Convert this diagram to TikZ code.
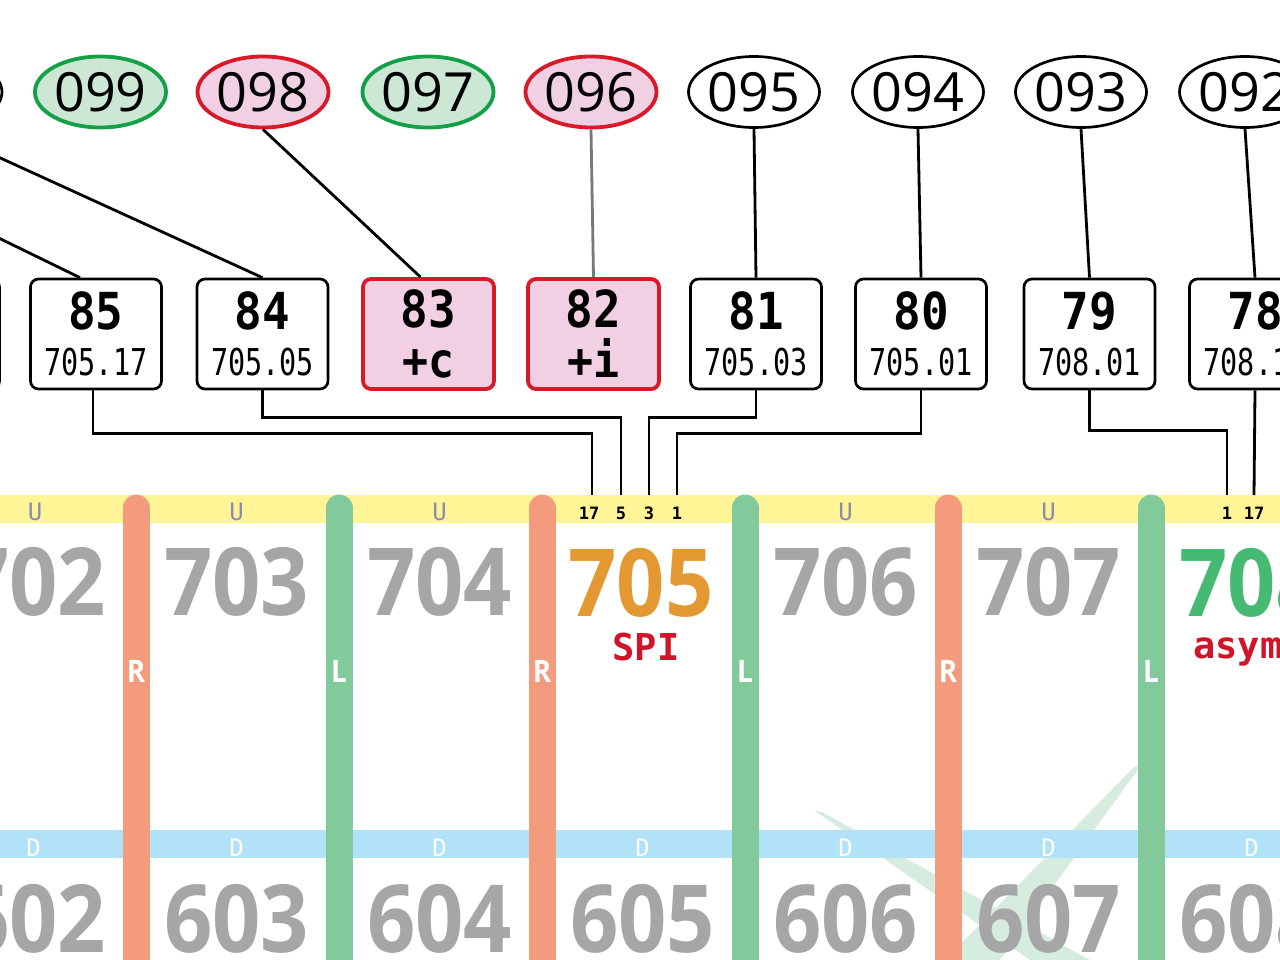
\documentclass[tikz,border=0pt]{standalone}
\usepackage{fontspec}
\usepackage{tikz}
\usetikzlibrary{shapes.geometric}
\newfontfamily\ovalfont{Open Sans}
\newfontfamily\bignumfont[FakeStretch=0.9]{Open Sans}
\newfontfamily\boxnumfont[FakeStretch=0.9]{DejaVu Sans Mono}
\newfontfamily\boxsubfont[FakeStretch=0.77]{DejaVu Sans Mono}
\newfontfamily\pinfont{DejaVu Sans Mono}
\definecolor{mapgreen}{RGB}{20, 160, 70}
\definecolor{mapgreenfill}{RGB}{204, 232, 212}
\definecolor{mapred}{RGB}{215, 25, 40}
\definecolor{mappink}{RGB}{240, 208, 226}
\definecolor{bandyellow}{RGB}{255, 244, 150}
\definecolor{bandblue}{RGB}{178, 226, 247}
\definecolor{stripered}{RGB}{245, 155, 125}
\definecolor{stripegreen}{RGB}{130, 202, 155}
\definecolor{numgray}{RGB}{166, 166, 166}
\definecolor{numorange}{RGB}{228, 152, 50}
\definecolor{numgreen}{RGB}{70, 185, 115}
\definecolor{textred}{RGB}{210, 20, 40}
\definecolor{labelblue}{RGB}{140, 140, 175}
\definecolor{markgreen}{RGB}{214, 236, 222}
\definecolor{wiregray}{RGB}{120, 120, 120}

\begin{document}
\begin{tikzpicture}[
        x=1pt, y=-1pt,
        oval/.style={ellipse, draw=black, line width=2.7pt, fill=white, minimum width=131pt, minimum height=71pt, inner sep=0pt, font=\ovalfont\fontsize{54}{54}\selectfont},
        goodoval/.style={oval, draw=mapgreen, fill=mapgreenfill, line width=3.8pt},
        badoval/.style={oval, draw=mapred, fill=mappink, line width=3.8pt},
        box/.style={draw=black, line width=2.7pt, fill=white, rounded corners=8pt, minimum width=131pt, minimum height=110pt, inner sep=0pt, align=center, font=\boxnumfont\bfseries\fontsize{51}{46}\selectfont},
        badbox/.style={box, draw=mapred, fill=mappink, line width=3.8pt, font=\boxnumfont\bfseries\fontsize{51}{50}\selectfont},
        bignum/.style={anchor=base, text=numgray, inner sep=0pt, font=\bignumfont\bfseries\fontsize{94}{94}\selectfont},
        bandlabel/.style={anchor=base, inner sep=0pt, font=\pinfont\fontsize{24}{24}\selectfont},
        pinlabel/.style={anchor=base, inner sep=0pt, font=\pinfont\bfseries\fontsize{17}{17}\selectfont},
        stripelabel/.style={anchor=base, inner sep=0pt, text=white, font=\bignumfont\bfseries\fontsize{31}{31}\selectfont},
        tagtext/.style={anchor=base, inner sep=0pt, text=textred, font=\pinfont\bfseries\fontsize{37}{37}\selectfont},
        stripe/.style={line width=27pt, line cap=round},
        wire/.style={draw=black, line width=2.8pt}
    ]
        \useasboundingbox (0,0) rectangle (1280,960);
        \clip (0,0) rectangle (1280,960);
        \fill[white] (0,0) rectangle (1280,960);

        % Background mark and bands
        \fill[markgreen] (815,811) -- (822,812) -- (1090,960) -- (1030,960) -- cycle;
        \fill[markgreen] (1135,766) -- (1139,768) -- (1000,960) -- (945,960) -- cycle;
        \fill[bandyellow] (0,495) rectangle (1280,523);
        \fill[bandblue] (0,830) rectangle (1280,858);

        % Stripes
        \draw[stripe, stripered] (136,508) -- (136,980);
        \draw[stripe, stripegreen] (339,508) -- (339,980);
        \draw[stripe, stripered] (542,508) -- (542,980);
        \draw[stripe, stripegreen] (745,508) -- (745,980);
        \draw[stripe, stripered] (948,508) -- (948,980);
        \draw[stripe, stripegreen] (1151,508) -- (1151,980);
        \node[stripelabel] (r1) at (136,682) {R};
        \node[stripelabel] (l1) at (339,682) {L};
        \node[stripelabel] (r2) at (542,682) {R};
        \node[stripelabel] (l2) at (745,682) {L};
        \node[stripelabel] (r3) at (948,682) {R};
        \node[stripelabel] (l3) at (1151,682) {L};

        % Band labels
        \node[bandlabel, text=labelblue] (u702) at (35,520) {U};
        \node[bandlabel, text=labelblue] (u703) at (236.5,520) {U};
        \node[bandlabel, text=labelblue] (u704) at (439.5,520) {U};
        \node[bandlabel, text=labelblue] (u706) at (845.5,520) {U};
        \node[bandlabel, text=labelblue] (u707) at (1048.5,520) {U};
        \node[bandlabel, text=white] (d602) at (33.5,856) {D};
        \node[bandlabel, text=white] (d603) at (236.5,856) {D};
        \node[bandlabel, text=white] (d604) at (439.5,856) {D};
        \node[bandlabel, text=white] (d605) at (642.5,856) {D};
        \node[bandlabel, text=white] (d606) at (845.5,856) {D};
        \node[bandlabel, text=white] (d607) at (1048.5,856) {D};
        \node[bandlabel, text=white] (d608) at (1251.5,856) {D};

        % Port numbers
        \node[bignum] (n702) at (33.5,615) {702};
        \node[bignum] (n703) at (236.5,615) {703};
        \node[bignum] (n704) at (439.5,615) {704};
        \node[bignum, text=numorange] (n705) at (641,616) {705};
        \node[bignum] (n706) at (845.5,615) {706};
        \node[bignum] (n707) at (1048.5,615) {707};
        \node[bignum, text=numgreen] (n708) at (1251.5,616) {708};
        \node[bignum] (n602) at (33.5,952) {602};
        \node[bignum] (n603) at (236.5,952) {603};
        \node[bignum] (n604) at (439.5,952) {604};
        \node[bignum] (n605) at (642.5,952) {605};
        \node[bignum] (n606) at (845.5,952) {606};
        \node[bignum] (n607) at (1048.5,952) {607};
        \node[bignum] (n608) at (1251.5,952) {608};
        \node[tagtext] (spi) at (646,660) {SPI};
        \node[tagtext, anchor=base west] (asym) at (1193,658) {asym};

        % Pins
        \coordinate (p17) at (592,495);
        \coordinate (p5) at (621,495);
        \coordinate (p3) at (649,495);
        \coordinate (p1) at (677,495);
        \coordinate (q1) at (1227,495);
        \coordinate (q17) at (1254,495);
        \node[pinlabel] (t17) at (589,519) {17};
        \node[pinlabel] (t5) at (621,519) {5};
        \node[pinlabel] (t3) at (649,519) {3};
        \node[pinlabel] (t1) at (677,519) {1};
        \node[pinlabel] (s1) at (1227,519) {1};
        \node[pinlabel] (s17) at (1254,519) {17};

        % Ovals
        \coordinate (e101) at (-227,128);
        \node[oval] (e100) at (-63.5,92) {100};
        \node[goodoval] (e099) at (100.5,92) {099};
        \node[badoval] (e098) at (263,92) {098};
        \node[goodoval] (e097) at (428,92) {097};
        \node[badoval] (e096) at (591,92) {096};
        \node[oval] (e095) at (754,92) {095};
        \node[oval] (e094) at (918,92) {094};
        \node[oval] (e093) at (1081,92) {093};
        \node[oval] (e092) at (1245,92) {092};

        % Boxes
        \node[box] (b86) at (-66,334) {};
        \node[box] (b85) at (96,334) {85\\{\boxsubfont\mdseries\fontsize{37}{46}\selectfont 705.17}};
        \node[box] (b84) at (262.5,334) {84\\{\boxsubfont\mdseries\fontsize{37}{46}\selectfont 705.05}};
        \node[badbox] (b83) at (428.5,334) {83\\{\fontsize{48}{50}\selectfont +c}};
        \node[badbox] (b82) at (593.5,334) {82\\{\fontsize{48}{50}\selectfont +i}};
        \node[box] (b81) at (756,334) {81\\{\boxsubfont\mdseries\fontsize{37}{46}\selectfont 705.03}};
        \node[box] (b80) at (921,334) {80\\{\boxsubfont\mdseries\fontsize{37}{46}\selectfont 705.01}};
        \node[box] (b79) at (1089.5,334) {79\\{\boxsubfont\mdseries\fontsize{37}{46}\selectfont 708.01}};
        \node[box] (b78) at (1255,334) {78\\{\boxsubfont\mdseries\fontsize{37}{46}\selectfont 708.17}};

        % Connectors
        \draw[wire] (e101) -- ([xshift=-16pt]b85.north);
        \draw[wire] (e100.south) -- (b84.north);
        \draw[wire] (e098.south) -- ([xshift=-8pt]b83.north);
        \draw[wire, draw=wiregray] (e096.south) -- (b82.north);
        \draw[wire] (e095.south) -- (b81.north);
        \draw[wire] (e094.south) -- (b80.north);
        \draw[wire] (e093.south) -- (b79.north);
        \draw[wire] (e092.south) -- (b78.north);
        \draw[wire] ([xshift=-3pt]b85.south) -- ++(0,43) -| (p17);
        \draw[wire] (b84.south) -- ++(0,27) -| (p5);
        \draw[wire] (b81.south) -- ++(0,27) -| (p3);
        \draw[wire] (b80.south) -- ++(0,43) -| (p1);
        \draw[wire] (b79.south) -- ++(0,40) -| (q1);
        \draw[wire] (b78.south) -- (q17);
    \end{tikzpicture}
\end{document}
